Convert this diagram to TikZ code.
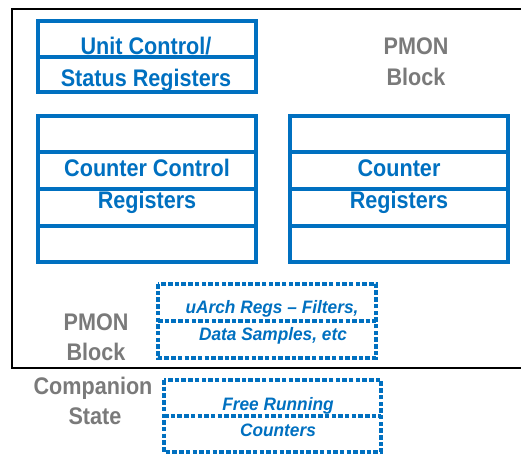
\documentclass[tikz,border=0pt]{standalone}
\usepackage{fontspec}
\setmainfont{Liberation Sans}
\newfontfamily\labelfont[FakeStretch=0.9]{Liberation Sans}
\newfontfamily\notefont[FakeStretch=0.96]{Liberation Sans}
\definecolor{regblue}{HTML}{0070C0}
\definecolor{labelgray}{HTML}{7A7A7A}
\tikzset{
  regbox/.style={draw=regblue, line width=3.4pt},
  dotbox/.style={draw=regblue, line width=3.4pt, dash pattern=on 4.5pt off 2.2pt},
  regtext/.style={anchor=base, inner sep=0pt, text=regblue, font=\labelfont\bfseries\fontsize{24}{28}\selectfont},
  graytext/.style={anchor=base, inner sep=0pt, text=labelgray, font=\labelfont\bfseries\fontsize{24}{28}\selectfont},
  notetext/.style={anchor=base, inner sep=0pt, text=regblue, font=\notefont\bfseries\itshape\fontsize{18}{22}\selectfont},
}
\begin{document}
\begin{tikzpicture}[x=1pt, y=-1pt]
\useasboundingbox (0,0) rectangle (521,453);
\clip (0,0) rectangle (521,453);

% PMON block outline
\draw[line width=2.6pt] (530,9) -- (12,9) -- (12,368) -- (530,368);

% unit control / status registers
\draw[regbox] (38,21) rectangle (256,92);
\draw[regbox] (38,57) -- (256,57);
\node[regtext] (uc1) at (146,54) {Unit Control/};
\node[regtext] (uc2) at (146,86) {Status Registers};

% PMON block caption
\node[graytext] (pb1) at (416,54) {PMON};
\node[graytext] (pb2) at (416,85) {Block};

% counter control registers
\draw[regbox] (38,116) rectangle (256,262);
\foreach \yy in {152,189,226} \draw[regbox] (38,\yy) -- (256,\yy);
\node[regtext] (cc1) at (147,176) {Counter Control};
\node[regtext] (cc2) at (147,208) {Registers};

% counter registers
\draw[regbox] (290,116) rectangle (508,262);
\foreach \yy in {152,189,226} \draw[regbox] (290,\yy) -- (508,\yy);
\node[regtext] (cr1) at (399,176) {Counter};
\node[regtext] (cr2) at (399,208) {Registers};

% uArch registers
\draw[dotbox] (158,284) rectangle (376,358);
\draw[dotbox] (158,321) -- (376,321);
\node[notetext] (ua1) at (272,313) {uArch Regs – Filters,};
\node[notetext] (ua2) at (273,340) {Data Samples, etc};

% lower captions
\node[graytext] (lb1) at (96,330) {PMON};
\node[graytext] (lb2) at (96,360) {Block};
\node[graytext] (cs1) at (93,394) {Companion};
\node[graytext] (cs2) at (95,424) {State};

% free running counters
\draw[dotbox] (164,380) rectangle (381,452);
\draw[dotbox] (164,416) -- (381,416);
\node[notetext] (fr1) at (278,410) {Free Running};
\node[notetext] (fr2) at (278,436) {Counters};
\end{tikzpicture}
\end{document}
